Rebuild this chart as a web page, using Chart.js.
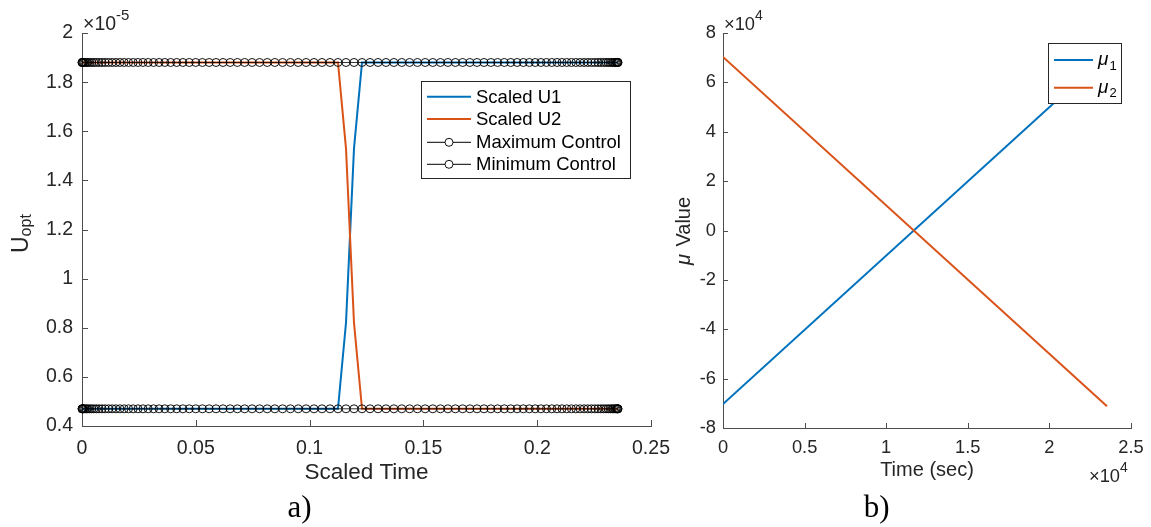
<!DOCTYPE html>
<html><head><meta charset="utf-8">
<script src="https://cdn.jsdelivr.net/npm/chart.js@4.4.1/dist/chart.umd.min.js"></script>
<style>
html,body{margin:0;padding:0;background:#fff;}
#wrap{position:relative;width:1151px;height:527px;overflow:hidden;background:#fff;}
canvas{position:absolute;left:0;top:0;}
</style></head><body>
<div id="wrap"><canvas id="c1" width="1151" height="527"></canvas><canvas id="c2" width="1151" height="527"></canvas></div>
<script>
// ---------------- data (panel a: values in units of 1e-5) ----------------
const nodeTimes = [0,0.00005,0.00021,0.00047,0.00084,0.00132,0.00189,0.00257,0.00336,0.00424,
0.00523,0.00632,0.00751,0.00880,0.01018,0.01166,0.01324,0.01491,0.01667,0.01852,
0.02046,0.02249,0.02460,0.02680,0.02908,0.03143,0.03387,0.03638,0.03896,0.04161,
0.04433,0.04712,0.04997,0.05288,0.05585,0.05888,0.06195,0.06508,0.06825,0.07147,
0.07473,0.07803,0.08136,0.08473,0.08813,0.09155,0.09499,0.09846,0.10194,0.10544,
0.10895,0.11247,0.11599,0.11951,0.12303,0.12655,0.13006,0.13356,0.13704,0.14051,
0.14395,0.14737,0.15077,0.15414,0.15747,0.16077,0.16403,0.16725,0.17042,0.17355,
0.17663,0.17965,0.18262,0.18553,0.18838,0.19117,0.19389,0.19654,0.19912,0.20163,
0.20407,0.20642,0.20870,0.21090,0.21301,0.21504,0.21698,0.21883,0.22059,0.22226,
0.22384,0.22532,0.22671,0.22799,0.22918,0.23027,0.23126,0.23214,0.23293,0.23361,
0.23419,0.23466,0.23503,0.23529,0.23545,0.2355];
const maxControl = 1.88;
const minControl = 0.47;
const u1Times  = [0, 0.11247, 0.11599, 0.11951, 0.12303, 0.2355];
const u1Values = [0.47, 0.47, 0.82, 1.53, 1.88, 1.88];
const u2Times  = [0, 0.11247, 0.11599, 0.11951, 0.12303, 0.2355];
const u2Values = [1.88, 1.88, 1.53, 0.82, 0.47, 0.47];
const uTicksY = [0.4,0.6,0.8,1,1.2,1.4,1.6,1.8,2];
const uTicksYLabels = ['0.4','0.6','0.8','1','1.2','1.4','1.6','1.8','2'];
const sTicksX = [0,0.05,0.1,0.15,0.2,0.25];
const sTicksXLabels = ['0','0.05','0.1','0.15','0.2','0.25'];

// ---------------- data (panel b) ----------------
const muTime = [0, 23530];
const mu1 = [-70300, 71200];
const mu2 = [70300, -71200];
const muTicksY = [-80000,-60000,-40000,-20000,0,20000,40000,60000,80000];
const muTicksYLabels = ['-8','-6','-4','-2','0','2','4','6','8'];
const timeTicksX = [0,5000,10000,15000,20000,25000];
const timeTicksXLabels = ['0','0.5','1','1.5','2','2.5'];

// ---------------- helpers ----------------
const SANS = '"Liberation Sans", Arial, Helvetica, sans-serif';
const SERIF = '"Liberation Serif", "Times New Roman", serif';
const f = (s, style) => (style ? style + ' ' : '') + s + 'px ' + SANS;
const pts = (xs, ys) => xs.map((x, i) => ({x, y: ys[i]}));

const insideTicks = {
  id: 'insideTicks',
  afterDraw(chart, args, o) {
    const {ctx, chartArea: a} = chart;
    ctx.save(); ctx.strokeStyle = o.color; ctx.lineWidth = 1;
    const xs = chart.scales.x, ys = chart.scales.y;
    xs.ticks.forEach(t => {
      const p = Math.round(xs.getPixelForValue(t.value)) + 0.5;
      ctx.beginPath(); ctx.moveTo(p, a.bottom); ctx.lineTo(p, a.bottom - o.len); ctx.stroke();
    });
    ys.ticks.forEach(t => {
      const p = Math.round(ys.getPixelForValue(t.value)) + 0.5;
      ctx.beginPath(); ctx.moveTo(a.left, p); ctx.lineTo(a.left + o.len, p); ctx.stroke();
    });
    ctx.restore();
  }
};

function richText(ctx, item) {
  ctx.save();
  ctx.translate(item.x, item.y);
  if (item.rot) ctx.rotate(item.rot * Math.PI / 180);
  ctx.textBaseline = 'alphabetic'; ctx.textAlign = 'left';
  const widths = item.parts.map(p => { ctx.font = p.font; return ctx.measureText(p.t).width + (p.gap || 0); });
  const total = widths.reduce((a, b) => a + b, 0);
  let x = item.align === 'center' ? -total / 2 : 0;
  item.parts.forEach((p, i) => {
    ctx.font = p.font; ctx.fillStyle = p.color || item.color || '#262626';
    ctx.fillText(p.t, x, p.dy || 0); x += widths[i];
  });
  ctx.restore();
}
const texts = {
  id: 'texts',
  afterDraw(chart, args, o) { o.items.forEach(it => richText(chart.ctx, it)); }
};

const boxLegend = {
  id: 'boxLegend',
  afterDraw(chart, args, o) {
    const ctx = chart.ctx; ctx.save();
    const [bx, by, bw, bh] = o.box;
    ctx.fillStyle = '#fff'; ctx.fillRect(bx, by, bw, bh);
    ctx.strokeStyle = o.border; ctx.lineWidth = 1; ctx.strokeRect(bx + 0.5, by + 0.5, bw, bh);
    chart.data.datasets.forEach((ds, i) => {
      const y = o.rows[i];
      ctx.strokeStyle = ds.borderColor; ctx.lineWidth = ds.pointRadius > 0 ? 1 : ds.borderWidth;
      ctx.beginPath(); ctx.moveTo(o.line[0], y); ctx.lineTo(o.line[1], y); ctx.stroke();
      if (ds.pointRadius > 0) {
        ctx.beginPath(); ctx.arc((o.line[0] + o.line[1]) / 2, y, ds.pointRadius, 0, 2 * Math.PI);
        ctx.fillStyle = '#fff'; ctx.fill();
        ctx.strokeStyle = ds.pointBorderColor; ctx.lineWidth = ds.pointBorderWidth; ctx.stroke();
      }
      const [base, sub] = ds.label.split('_');
      ctx.fillStyle = '#000'; ctx.textBaseline = 'middle'; ctx.textAlign = 'left';
      ctx.font = sub ? o.italicFont : o.font;
      ctx.fillText(base, o.textX, y + (o.dy || 0));
      if (sub) {
        const w = ctx.measureText(base).width;
        ctx.font = o.subFont; ctx.fillText(sub, o.textX + w + 1, y + o.subDy);
      }
    });
    ctx.restore();
  }
};

function axis(cfg) {
  return {
    type: 'linear', min: cfg.min, max: cfg.max,
    afterBuildTicks: s => { s.ticks = cfg.ticks.map(v => ({value: v})); },
    ticks: {callback: (v, i) => cfg.labels[i], font: {family: SANS, size: cfg.fs}, color: '#262626',
            padding: cfg.pad, maxRotation: 0, autoSkip: false},
    grid: {display: false, drawTicks: false},
    border: {display: true, color: '#4d4d4d', width: 1},
    title: cfg.title ? {display: true, text: cfg.title, color: '#262626',
            font: {family: SANS, size: cfg.tfs}, padding: {top: 0, bottom: cfg.tpad}} : {display: false},
    afterFit: s => {
      if (cfg.h !== undefined) s.height = cfg.h;
      if (cfg.w !== undefined) s.width = cfg.w;
      s.paddingLeft = 0; s.paddingRight = 0; s.paddingTop = 0; s.paddingBottom = 0;
    }
  };
}

const common = {animation: false, responsive: false, devicePixelRatio: 1, events: []};
const markerStyle = {pointRadius: 4, pointBorderWidth: 1, pointBorderColor: 'rgba(0,0,0,0.92)',
                     pointBackgroundColor: 'rgba(0,0,0,0)', borderColor: '#000', borderWidth: 0.8, clip: false};

// ---------------- panel a ----------------
new Chart(document.getElementById('c1'), {
  type: 'line',
  data: {datasets: [
    {label: 'Scaled U1', data: pts(u1Times, u1Values), borderColor: '#0072BD', borderWidth: 2, pointRadius: 0, order: 4, clip: false},
    {label: 'Scaled U2', data: pts(u2Times, u2Values), borderColor: '#D95319', borderWidth: 2, pointRadius: 0, order: 3, clip: false},
    Object.assign({label: 'Maximum Control', data: nodeTimes.map(t => ({x: t, y: maxControl})), order: 2}, markerStyle),
    Object.assign({label: 'Minimum Control', data: nodeTimes.map(t => ({x: t, y: minControl})), order: 1}, markerStyle)
  ]},
  options: Object.assign({}, common, {
    layout: {padding: {left: 0, right: 500, top: 33, bottom: 0}},
    scales: {
      x: axis({min: 0, max: 0.25, ticks: sTicksX, labels: sTicksXLabels, fs: 19.5, pad: 10.6, title: 'Scaled Time', tfs: 22.5, tpad: 40.5, h: 101}),
      y: axis({min: 0.4, max: 2, ticks: uTicksY, labels: uTicksYLabels, fs: 19.5, pad: 9, w: 82})
    },
    plugins: {
      legend: {display: false}, tooltip: {enabled: false},
      insideTicks: {len: 6, color: '#4d4d4d'},
      boxLegend: {box: [421, 81, 209, 97], border: '#262626', rows: [96.7, 119, 142.3, 164.3], line: [427, 471], textX: 476,
                  font: f(18.5), italicFont: f(18.5), subFont: f(13), subDy: 5, dy: 1},
      texts: {items: [
        {x: 83, y: 29.5, parts: [{t: '×10', font: f(19.5)}, {t: '-5', font: f(15), dy: -10}]},
        {x: 28, y: 253, rot: -90, parts: [{t: 'U', font: f(23)}, {t: 'opt', font: f(16), dy: 3}]},
        {x: 299.5, y: 517, align: 'center', color: '#000', parts: [{t: 'a)', font: '31px ' + SERIF}]}
      ]}
    }
  }),
  plugins: [insideTicks, boxLegend, texts]
});

// ---------------- panel b ----------------
new Chart(document.getElementById('c2'), {
  type: 'line',
  data: {datasets: [
    {label: 'μ_1', data: pts(muTime, mu1), borderColor: '#0072BD', borderWidth: 2, pointRadius: 0, order: 2},
    {label: 'μ_2', data: pts(muTime, mu2), borderColor: '#D95319', borderWidth: 2, pointRadius: 0, order: 1}
  ]},
  options: Object.assign({}, common, {
    layout: {padding: {left: 680, right: 20, top: 33, bottom: 0}},
    scales: {
      x: axis({min: 0, max: 25000, ticks: timeTicksX, labels: timeTicksXLabels, fs: 18.3, pad: 9.3, title: 'Time (sec)', tfs: 20, tpad: 44.3, h: 99}),
      y: axis({min: -80000, max: 80000, ticks: muTicksY, labels: muTicksYLabels, fs: 18.3, pad: 7, w: 43})
    },
    plugins: {
      legend: {display: false}, tooltip: {enabled: false},
      insideTicks: {len: 5, color: '#4d4d4d'},
      boxLegend: {box: [1048, 43, 73, 60], border: '#262626', rows: [60, 87.7], line: [1054, 1093], textX: 1098,
                  font: f(18), italicFont: f(19, 'italic'), subFont: f(13), subDy: 6, dy: 0},
      texts: {items: [
        {x: 724, y: 29.5, parts: [{t: '×10', font: f(18.3)}, {t: '4', font: f(14), dy: -10}]},
        {x: 1089, y: 482, parts: [{t: '×10', font: f(18.3)}, {t: '4', font: f(14), dy: -10}]},
        {x: 690, y: 231, rot: -90, align: 'center', parts: [{t: 'μ', font: f(20, 'italic'), gap: 2}, {t: ' Value', font: f(20)}]},
        {x: 876.7, y: 517, align: 'center', color: '#000', parts: [{t: 'b)', font: '31px ' + SERIF}]}
      ]}
    }
  }),
  plugins: [insideTicks, boxLegend, texts]
});
</script>
</body></html>
